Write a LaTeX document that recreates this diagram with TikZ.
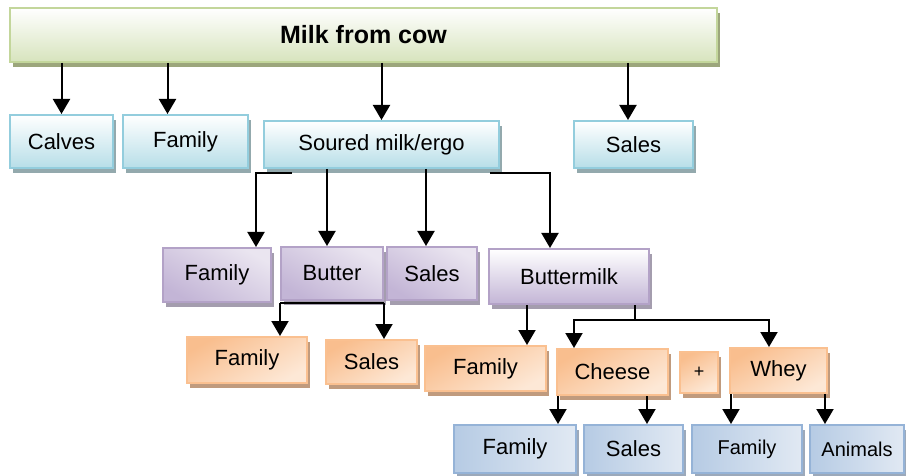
\documentclass[tikz,border=0pt]{standalone}
\usepackage{fontspec}
\setmainfont{Liberation Sans}
\usetikzlibrary{arrows.meta,shadows}

\definecolor{grnline}{HTML}{C3D69B}
\definecolor{grnfill}{HTML}{D7E4BD}
\definecolor{grnshade}{HTML}{9CA67C}
\definecolor{cyanline}{HTML}{93CDDD}
\definecolor{cyanfill}{HTML}{B7DEE8}
\definecolor{cyanshade}{HTML}{93A9AD}
\definecolor{purpline}{HTML}{B3A2C7}
\definecolor{purpfill}{HTML}{C3B5D6}
\definecolor{purplight}{HTML}{EAE5F0}
\definecolor{purpshade}{HTML}{A49DAE}
\definecolor{orgline}{HTML}{FAC090}
\definecolor{orgfill}{HTML}{F9BE8E}
\definecolor{orglight}{HTML}{FDE8D6}
\definecolor{orgshade}{HTML}{C09B7E}
\definecolor{bluline}{HTML}{95B3D7}
\definecolor{blufill}{HTML}{B6CBE4}
\definecolor{blulight}{HTML}{E1E9F3}
\definecolor{blushade}{HTML}{9CA9BA}

\begin{document}
\begin{tikzpicture}[x=0.5pt, y=-0.5pt,
    box/.style={draw, line width=1pt, inner sep=0pt, font=\fontsize{11}{13}\selectfont},
    milkbox/.style={box, draw=grnline, top color=white, bottom color=grnfill,
        drop shadow={shadow xshift=1.5pt, shadow yshift=-2.5pt, fill=grnshade, opacity=1}},
    cyanbox/.style={box, draw=cyanline, top color=white, bottom color=cyanfill,
        drop shadow={shadow xshift=1.5pt, shadow yshift=-2.5pt, fill=cyanshade, opacity=1}},
    purplebox/.style={box, draw=purpline, top color=purpfill, bottom color=purplight, shading angle=150,
        drop shadow={shadow xshift=1.5pt, shadow yshift=-2.5pt, fill=purpshade, opacity=1}},
    orangebox/.style={box, draw=orgline, top color=orgfill, bottom color=orglight, shading angle=30,
        drop shadow={shadow xshift=1.5pt, shadow yshift=-2.5pt, fill=orgshade, opacity=1}},
    bluebox/.style={box, draw=bluline, left color=blufill, right color=blulight,
        drop shadow={shadow xshift=1.5pt, shadow yshift=-2.5pt, fill=blushade, opacity=1}},
    arr/.style={-{Triangle[width=8.5pt,length=7.5pt]}, line width=1pt},
]
\useasboundingbox (0,0) rectangle (906,476);

% Top
\node[milkbox, minimum width=353.5pt, minimum height=27pt, font=\fontsize{12.5}{15}\selectfont\bfseries] (milk) at (363.5,35) {Milk from cow};

% First level
\node[cyanbox, minimum width=51.5pt, minimum height=26.5pt] (calves) at (61.5,141.5) {Calves};
\node[cyanbox, minimum width=62.5pt, minimum height=26.5pt] (famA) at (185.5,141.5) {Family};
\node[cyanbox, minimum width=117.5pt, minimum height=23.5pt] (soured) at (381.5,144.5) {Soured milk/ergo};
\node[cyanbox, minimum width=59.5pt, minimum height=23.5pt] (salesA) at (633.5,144.5) {Sales};

% Second level
\node[purplebox, minimum width=54pt, minimum height=27pt] (famB) at (217,275) {Family};
\node[purplebox, minimum width=51pt, minimum height=26.5pt] (butter) at (332,273.5) {Butter};
\node[purplebox, minimum width=45pt, minimum height=26.5pt] (salesB) at (432,273.5) {Sales};
\node[purplebox, top color=white, bottom color=purpfill, shading angle=0, minimum width=80pt, minimum height=27.5pt] (buttermilk) at (569,276.5) {Buttermilk};

% Third level
\node[orangebox, minimum width=60pt, minimum height=23pt] (famC) at (247,360) {Family};
\node[orangebox, minimum width=45.5pt, minimum height=22pt] (salesC) at (371.5,362) {Sales};
\node[orangebox, minimum width=60.5pt, minimum height=22.5pt] (famD) at (485.5,368.5) {Family};
\node[orangebox, minimum width=55.5pt, minimum height=23pt] (cheese) at (612.5,372) {Cheese};
\node[orangebox, minimum width=19pt, minimum height=20.5pt, font=\fontsize{9}{11}\selectfont] (plus) at (699,372.5) {+};
\node[orangebox, minimum width=48.5pt, minimum height=22.5pt] (whey) at (778.5,370.5) {Whey};

% Bottom
\node[bluebox, minimum width=61pt, minimum height=24pt] (famE) at (515,449) {Family};
\node[bluebox, minimum width=49.5pt, minimum height=24pt] (salesE) at (633.5,449) {Sales};
\node[bluebox, minimum width=55pt, minimum height=24pt, font=\fontsize{10}{12}\selectfont] (famF) at (747,449) {Family};
\node[bluebox, minimum width=47pt, minimum height=24pt, font=\fontsize{10}{12}\selectfont] (animals) at (857,449) {Animals};

% Milk from cow
\draw[arr] (calves.north |- milk.south) -- (calves.north);
\draw[arr] ([xshift=-9pt]famA.north |- milk.south) -- ([xshift=-9pt]famA.north);
\draw[arr] (soured.north |- milk.south) -- (soured.north);
\draw[arr] ([xshift=-2.75pt]salesA.north |- milk.south) -- ([xshift=-2.75pt]salesA.north);

% Soured milk
\draw[arr] ([xshift=-44.75pt,yshift=-2pt]soured.south) -| ([xshift=19.5pt]famB.north);
\draw[arr] ([xshift=-2.5pt]butter.north |- soured.south) -- ([xshift=-2.5pt]butter.north);
\draw[arr] ([xshift=-3pt]salesB.north |- soured.south) -- ([xshift=-3pt]salesB.north);
\draw[arr] ([xshift=54.25pt,yshift=-2pt]soured.south) -| ([xshift=-9.5pt]buttermilk.north);

% Butter
\draw[line width=1pt] ([yshift=-1pt]butter.south west) -- ([yshift=-1pt]butter.south east);
\draw[arr] ([yshift=-1pt]butter.south west) -- (butter.south west |- famC.north);
\draw[arr] ([yshift=-1pt]butter.south east) -- (butter.south east |- salesC.north);

% Buttermilk
\draw[arr] ([xshift=20.75pt]famD.north |- buttermilk.south) -- ([xshift=20.75pt]famD.north);
\coordinate (fork) at ([xshift=33pt,yshift=-7.5pt]buttermilk.south);
\draw[line width=1pt] (buttermilk.south -| fork) -- (fork);
\draw[arr] (fork) -| ([xshift=-19.25pt]cheese.north);
\draw[arr] (fork) -| ([xshift=-4.75pt]whey.north);

% Cheese and whey
\draw[arr] ([xshift=21.5pt]famE.north |- cheese.south) -- ([xshift=21.5pt]famE.north);
\draw[arr] ([xshift=6.75pt]salesE.north |- cheese.south) -- ([xshift=6.75pt]salesE.north);
\draw[arr] ([xshift=-8pt]famF.north |- whey.south) -- ([xshift=-8pt]famF.north);
\draw[arr] ([xshift=-16pt]animals.north |- whey.south) -- ([xshift=-16pt]animals.north);
\end{tikzpicture}
\end{document}
